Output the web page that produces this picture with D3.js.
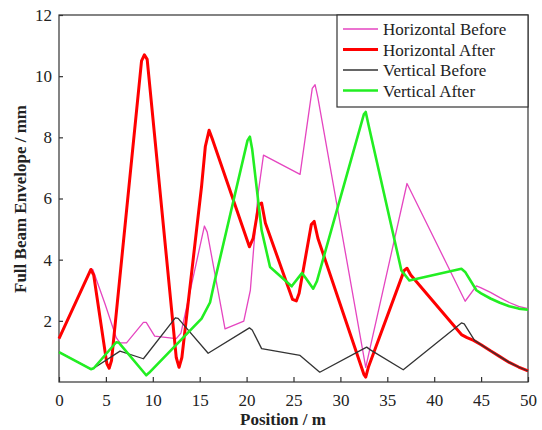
<!DOCTYPE html>
<html>
<head>
<meta charset="utf-8">
<script src="https://cdn.jsdelivr.net/npm/d3@7"></script>
<style>
body{margin:0;background:#fff;}
text{font-family:"Liberation Serif","Times New Roman",serif;fill:#222;}
.axis path,.axis line{stroke:#333;stroke-width:1.2;}
.axis text{font-size:17px;}
.title{font-size:17px;font-weight:bold;}
.legend text{font-size:17px;}
</style>
</head>
<body>
<svg id="chart" width="542" height="430"></svg>
<script>
//Data: [position m, envelope mm]
var horizBefore = [[0,1.42],[3.4,3.68],[3.6,3.68],[4.9,2.56],[6.1,1.45],[6.5,1.28],[7.2,1.28],[9.0,1.95],[9.3,1.95],[10.2,1.5],[12.5,1.42],[13.0,1.6],[15.5,5.1],[15.8,4.9],[17.7,1.74],[19.7,1.99],[20.4,3.0],[21.2,6.1],[21.8,7.42],[25.7,6.79],[27.0,9.6],[27.3,9.72],[27.6,9.3],[32.7,0.48],[37.1,6.49],[43.3,2.64],[44.5,3.14],[45,3.08],[46,2.93],[47,2.76],[48,2.6],[49,2.47],[50,2.4]];
var horizAfter = [[0,1.42],[3.4,3.68],[3.7,3.5],[5.1,0.6],[5.35,0.45],[5.6,0.7],[8.8,10.5],[9.1,10.7],[9.4,10.55],[12.5,0.8],[12.8,0.48],[13.1,0.8],[15.2,6.4],[15.6,7.7],[16.0,8.23],[16.4,7.9],[20.3,4.42],[20.7,4.7],[21.3,5.8],[21.6,5.85],[22.0,5.2],[24.9,2.7],[25.3,2.65],[25.6,2.9],[26.9,5.15],[27.2,5.25],[27.6,4.7],[32.5,0.25],[32.7,0.16],[33.0,0.5],[36.8,3.65],[37.1,3.72],[37.5,3.5],[42.9,1.55],[43.5,1.45],[44.2,1.36],[45,1.22],[46,1.02],[47,0.83],[48,0.64],[49,0.49],[50,0.36]];
var vertBefore = [[0,0.98],[3.4,0.42],[3.7,0.45],[6.5,1.01],[9.0,0.76],[12.4,2.1],[12.7,2.08],[15.9,0.94],[20.3,1.77],[20.6,1.7],[21.6,1.09],[25.7,0.87],[27.8,0.32],[32.8,1.14],[33.2,1.05],[36.7,0.4],[42.9,1.93],[43.2,1.9],[44.3,1.36],[45,1.22],[46,1.02],[47,0.83],[48,0.64],[49,0.49],[50,0.36]];
var vertAfter = [[0,0.98],[3.4,0.42],[3.7,0.45],[6.1,1.3],[6.4,1.28],[9.3,0.22],[9.6,0.3],[15.2,2.07],[16.1,2.6],[16.6,3.3],[20.1,7.9],[20.35,8.02],[20.6,7.6],[21.6,4.96],[22.5,3.76],[24.8,3.13],[25.9,3.56],[26.3,3.4],[27.1,3.05],[27.5,3.3],[32.5,8.75],[32.7,8.83],[33.0,8.4],[36.5,3.65],[37.35,3.32],[42.9,3.7],[43.3,3.6],[44.5,3.0],[45,2.9],[46,2.73],[47,2.59],[48,2.48],[49,2.4],[50,2.36]];

var seriesNames = ['Horizontal Before','Horizontal After','Vertical Before','Vertical After'];
var seriesColors = ['#e545c0','#ff0000','#333333','#22ee22'];
var seriesWidths = [1.3,3,1.3,2.6];
var xTicks = [0,5,10,15,20,25,30,35,40,45,50];
var yTicks = [2,4,6,8,10,12];

var m = {t:15,r:14,b:48,l:59},
	w = 542 - m.l - m.r,
	h = 430 - m.t - m.b;

var svg = d3.select('#chart');
var plot = svg.append('g').attr('transform','translate('+m.l+','+m.t+')');

var scaleX = d3.scaleLinear().domain([0,50]).range([0,w]),
	scaleY = d3.scaleLinear().domain([0,12]).range([h,0]);

//frame
plot.append('rect')
	.attr('width',w).attr('height',h)
	.attr('fill','none').attr('stroke','#333').attr('stroke-width',1.2);

var xAxis = d3.axisBottom(scaleX).tickValues(xTicks).tickSizeInner(-5).tickSizeOuter(0).tickPadding(12);
var yAxis = d3.axisLeft(scaleY).tickValues(yTicks).tickSizeInner(-4).tickSizeOuter(0).tickPadding(7);

plot.append('g').attr('class','axis axis-x')
	.attr('transform','translate(0,'+h+')')
	.call(xAxis);
plot.append('g').attr('class','axis axis-y')
	.call(yAxis);
plot.selectAll('.axis .domain').remove();

var line = d3.line()
	.x(function(d){return scaleX(d[0])})
	.y(function(d){return scaleY(d[1])});

var allSeries = [horizBefore,horizAfter,vertBefore,vertAfter];
plot.selectAll('.series')
	.data(allSeries)
	.enter()
	.append('path').attr('class','series')
	.attr('d',line)
	.attr('fill','none')
	.attr('stroke',function(d,i){return seriesColors[i]})
	.attr('stroke-width',function(d,i){return seriesWidths[i]})
	.attr('stroke-linejoin','round');

//legend
var legend = plot.append('g').attr('class','legend')
	.attr('transform','translate('+(w-191)+',0)');
legend.append('rect')
	.attr('width',191).attr('height',92)
	.attr('fill','#fff').attr('stroke','#333').attr('stroke-width',1.2);
var items = legend.selectAll('.item')
	.data(seriesNames)
	.enter()
	.append('g').attr('class','item')
	.attr('transform',function(d,i){return 'translate(6,'+(14+i*20.5)+')'});
items.append('line')
	.attr('x1',0).attr('x2',35)
	.attr('stroke',function(d,i){return seriesColors[i]})
	.attr('stroke-width',function(d,i){return seriesWidths[i]});
items.append('text')
	.attr('x',40).attr('y',6)
	.text(function(d){return d});

//axis titles
svg.append('text').attr('class','title')
	.attr('x',283).attr('y',425)
	.attr('text-anchor','middle')
	.text('Position / m');
svg.append('text').attr('class','title')
	.attr('transform','translate(26,199) rotate(-90)')
	.attr('text-anchor','middle')
	.text('Full Beam Envelope / mm');
</script>
</body>
</html>
